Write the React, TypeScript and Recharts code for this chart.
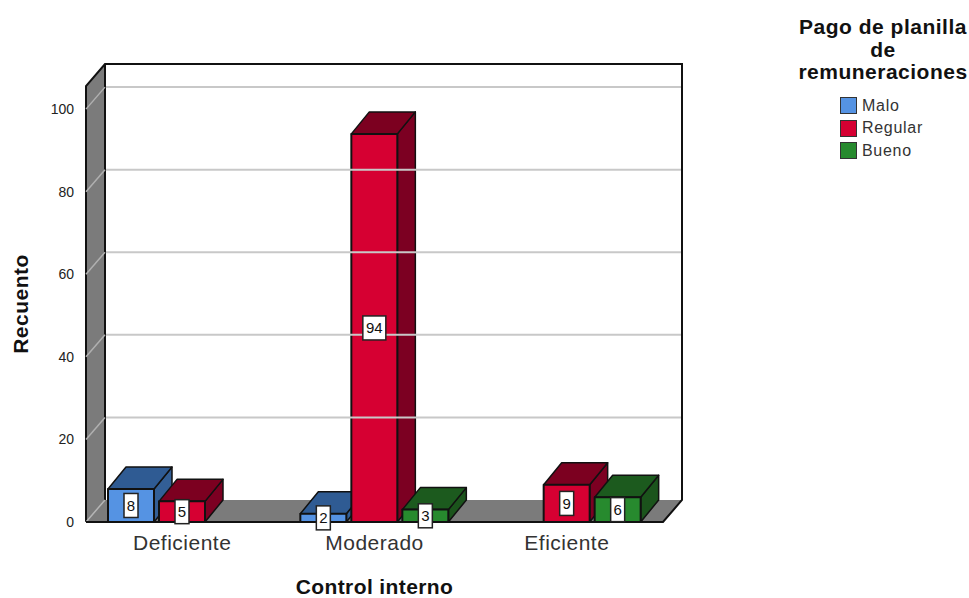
import { Bar, BarChart, LabelList, Legend, ReferenceArea, ReferenceLine, XAxis, YAxis } from 'recharts';

const categories = ['Deficiente', 'Moderado', 'Eficiente'];
const malo = [8, 2, null];
const regular = [5, 94, 9];
const bueno = [null, 3, 6];
const yTicks = [0, 20, 40, 60, 80, 100];
const gridValues = [20, 40, 60, 80, 100];
const yMax = 105.6;

const FONT = '"Liberation Sans", Arial, sans-serif';
const DEPTH_X = 19;
const DEPTH_Y = 22;

const palette = {
  Malo: { front: '#5593e3', top: '#2f5b93', side: '#335f96' },
  Regular: { front: '#d60032', top: '#7c0020', side: '#7c0022' },
  Bueno: { front: '#278a2e', top: '#1c5a1e', side: '#1b541c' },
};

const chartData = categories.map((name, i) => ({
  name,
  Malo: malo[i],
  Regular: regular[i],
  Bueno: bueno[i],
}));

// Extruded box built from the rectangle the bar scale hands over
function Box3D(props: any) {
  const { x, y, width, height, colors } = props;
  if (!height || height <= 0) return null;
  const dx = DEPTH_X - 1;
  const dy = DEPTH_Y;
  const edge = { stroke: '#111', strokeWidth: 1.5, strokeLinejoin: 'round' as const };
  return (
    <g>
      <polygon
        points={`${x + width},${y} ${x + width + dx},${y - dy} ${x + width + dx},${y + height - dy} ${x + width},${y + height}`}
        fill={colors.side}
        {...edge}
      />
      <polygon
        points={`${x},${y} ${x + dx},${y - dy} ${x + width + dx},${y - dy} ${x + width},${y}`}
        fill={colors.top}
        {...edge}
      />
      <rect x={x} y={y} width={width} height={height} fill={colors.front} {...edge} strokeWidth={2} />
    </g>
  );
}

// Left wall, floor and back wall of the box around the plot
function Walls(props: any) {
  const { x, y, width, height } = props;
  const b = y + height;
  const r = x + width;
  const backL = x + DEPTH_X;
  const backR = r + DEPTH_X;
  const backT = y - DEPTH_Y;
  const backB = b - DEPTH_Y;
  return (
    <g>
      <rect x={backL} y={backT} width={width} height={height} fill="#fff" />
      <polygon points={`${x},${y} ${backL},${backT} ${backL},${backB} ${x},${b}`} fill="#7b7b7b" />
      <polygon points={`${x},${b} ${backL},${backB} ${backR},${backB} ${r},${b}`} fill="#7b7b7b" />
      <path
        d={`M${x},${b} V${y} L${backL},${backT} H${backR} V${backB} L${r},${b} H${x}`}
        fill="none"
        stroke="#111"
        strokeWidth={2}
      />
      <line x1={backL} y1={backT} x2={backL} y2={backB} stroke="#111" strokeWidth={2} />
      <line x1={x} y1={b} x2={backL} y2={backB} stroke="#b5b5b5" strokeWidth={1.5} />
    </g>
  );
}

// Grid line runs up the left wall, then across the back wall
function WallGridLine(props: any) {
  const { x1, x2, y1 } = props;
  const by = y1 - DEPTH_Y;
  return (
    <g>
      <line x1={x1} y1={y1} x2={x1 + DEPTH_X} y2={by} stroke="#b0b0b0" strokeWidth={1.5} />
      <line x1={x1 + DEPTH_X + 1} y1={by} x2={x2 + DEPTH_X - 1} y2={by} stroke="#c8c8c8" strokeWidth={2} />
    </g>
  );
}

function ValueTag(props: any) {
  const { x, y, width, height, value } = props;
  if (value == null) return null;
  const w = String(value).length > 1 ? 23 : 14;
  const h = 24;
  const cx = x + width / 2;
  const cy = y + height / 2;
  return (
    <g>
      <rect x={cx - w / 2} y={cy - h / 2} width={w} height={h} fill="#fff" stroke="#222" strokeWidth={1.5} />
      <text x={cx} y={cy + 5.5} textAnchor="middle" fontFamily={FONT} fontSize={15} fill="#111">
        {value}
      </text>
    </g>
  );
}

function LegendBlock({ payload }: any) {
  return (
    <div style={{ width: 190, fontFamily: FONT, textAlign: 'center' }}>
      <div style={{ fontWeight: 700, fontSize: 21, lineHeight: '22.5px', letterSpacing: 0.5, color: '#111' }}>
        Pago de planilla
        <br />
        de
        <br />
        remuneraciones
      </div>
      <div style={{ marginTop: 11, marginLeft: 52, textAlign: 'left' }}>
        {(payload || []).map((item: any) => (
          <div key={item.value} style={{ display: 'flex', alignItems: 'center', height: 22.5 }}>
            <span
              style={{
                width: 15,
                height: 15,
                background: item.color,
                border: '1.5px solid #333',
                marginRight: 5,
              }}
            />
            <span style={{ fontSize: 16, letterSpacing: 0.7, color: '#333' }}>{item.value}</span>
          </div>
        ))}
      </div>
    </div>
  );
}

const seriesKeys = ['Malo', 'Regular', 'Bueno'] as const;

export default function App() {
  return (
    <div style={{ position: 'absolute', left: 0, top: 0, width: 969, height: 598, background: '#fff' }}>
      <BarChart
        width={969}
        height={598}
        data={chartData}
        margin={{ top: 86, right: 116, bottom: 0, left: 0 }}
        barCategoryGap={22}
        barGap={5}
      >
        <ReferenceArea y1={0} y2={yMax} ifOverflow="visible" shape={<Walls />} />
        {gridValues.map((v) => (
          <ReferenceLine key={v} y={v} ifOverflow="visible" shape={<WallGridLine />} />
        ))}
        <XAxis
          dataKey="name"
          axisLine={{ stroke: '#111', strokeWidth: 2 }}
          tickLine={false}
          tick={{ fontFamily: FONT, fontSize: 21, fill: '#333', letterSpacing: 0.5 }}
          tickMargin={7}
          height={76}
          label={{
            value: 'Control interno',
            position: 'insideBottom',
            offset: 0,
            dy: -4,
            style: { fontFamily: FONT, fontSize: 21, fontWeight: 700, fill: '#111', letterSpacing: 0.4 },
          }}
        />
        <YAxis
          domain={[0, yMax]}
          ticks={yTicks}
          width={86}
          axisLine={false}
          tickLine={false}
          tick={{ fontFamily: FONT, fontSize: 14, fill: '#222' }}
          tickMargin={6}
          label={{
            value: 'Recuento',
            angle: -90,
            position: 'insideLeft',
            offset: 0,
            dx: 21,
            style: { fontFamily: FONT, fontSize: 21, fontWeight: 700, fill: '#111', letterSpacing: 0.5, textAnchor: 'middle' },
          }}
        />
        <Legend
          layout="horizontal"
          verticalAlign="middle"
          align="right"
          itemSorter={null}
          content={<LegendBlock />}
          wrapperStyle={{ left: 788, top: 16, width: 190, bottom: 'auto', right: 'auto' }}
        />
        {seriesKeys.map((key) => (
          <Bar
            key={key}
            dataKey={key}
            name={key}
            fill={palette[key].front}
            barSize={46}
            isAnimationActive={false}
            shape={<Box3D colors={palette[key]} />}
          >
            <LabelList dataKey={key} content={<ValueTag />} />
          </Bar>
        ))}
      </BarChart>
    </div>
  );
}
